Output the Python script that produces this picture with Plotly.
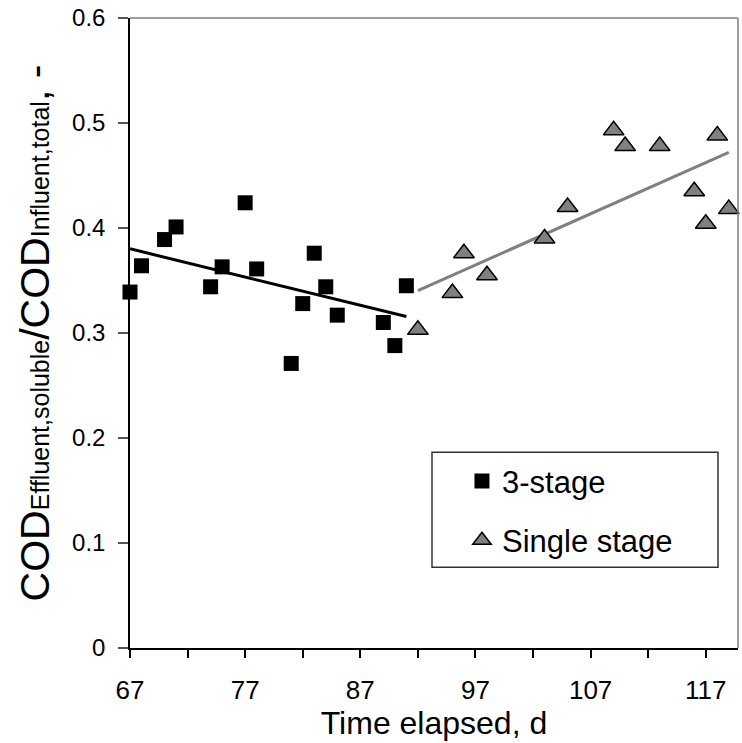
import numpy as np
import plotly.graph_objects as go

# ---- data ----
days_3stage = [67, 68, 70, 71, 74, 75, 77, 78, 81, 82, 83, 84, 85, 89, 90, 91]
ratio_3stage = [0.339, 0.364, 0.389, 0.401, 0.344, 0.363, 0.424, 0.361, 0.271,
                0.328, 0.376, 0.344, 0.317, 0.310, 0.288, 0.345]
days_single = [92, 95, 96, 98, 103, 105, 109, 110, 113, 116, 117, 118, 119]
ratio_single = [0.303, 0.338, 0.376, 0.355, 0.390, 0.420, 0.493, 0.478, 0.478,
                0.435, 0.404, 0.488, 0.418]

x_tickvals = [67, 72, 77, 82, 87, 92, 97, 102, 107, 112, 117]
x_ticktext = ["67", "", "77", "", "87", "", "97", "", "107", "", "117"]
y_tickvals = [0, 0.1, 0.2, 0.3, 0.4, 0.5, 0.6]
y_ticktext = ["0", "0.1", "0.2", "0.3", "0.4", "0.5", "0.6"]

FONT = "Arial, Liberation Sans, sans-serif"


def trend(xs, ys):
    k, b = np.polyfit(xs, ys, 1)
    xe = np.array([min(xs), max(xs)], dtype=float)
    return xe, k * xe + b


fig = go.Figure()

tx, ty = trend(days_3stage, ratio_3stage)
fig.add_trace(go.Scatter(x=tx, y=ty, mode="lines", line=dict(color="black", width=3),
                         showlegend=False, hoverinfo="skip", cliponaxis=False))
tx2, ty2 = trend(days_single, ratio_single)
fig.add_trace(go.Scatter(x=tx2, y=ty2, mode="lines", line=dict(color="#808080", width=3),
                         showlegend=False, hoverinfo="skip", cliponaxis=False))

fig.add_trace(go.Scatter(x=days_3stage, y=ratio_3stage, mode="markers", name="3-stage",
                         legendgroup="a", cliponaxis=False,
                         marker=dict(symbol="square", size=15, color="black",
                                     line=dict(width=0))))
fig.add_trace(go.Scatter(x=days_single, y=ratio_single, mode="markers", name="Single stage",
                         legendgroup="b", cliponaxis=False,
                         marker=dict(symbol="triangle-up", size=18, color="#808080",
                                     line=dict(color="black", width=1.5))))

# top/right plot-area border (grey)
fig.add_shape(type="line", xref="paper", yref="paper", x0=0, x1=1, y0=1, y1=1,
              line=dict(color="#808080", width=1.5))
fig.add_shape(type="line", xref="paper", yref="paper", x0=1, x1=1, y0=0, y1=1,
              line=dict(color="#808080", width=1.5))
# legend frame
fig.add_shape(type="rect", xref="paper", yref="paper", x0=0.4967, x1=0.9671,
              y0=0.1281, y1=0.3106, line=dict(color="#333333", width=1.5),
              fillcolor="white", layer="below")

fig.update_layout(
    width=742, height=743,
    margin=dict(l=130, r=4, t=18, b=95),
    paper_bgcolor="white", plot_bgcolor="white",
    font=dict(family=FONT, color="black"),
    showlegend=True,
    legend=dict(x=0.546, y=0.128, xanchor="left", yanchor="bottom",
                bgcolor="rgba(0,0,0,0)", borderwidth=0,
                font=dict(size=31, family=FONT, color="black"),
                traceorder="grouped", tracegroupgap=16, itemwidth=30),
    xaxis=dict(range=[67, 119.8], tickmode="array", tickvals=x_tickvals,
               ticktext=x_ticktext, ticks="outside", ticklen=8, tickwidth=1.5,
               tickcolor="black", showline=True, linecolor="black", linewidth=1.5,
               showgrid=False, zeroline=False, tickfont=dict(size=26),
               ticklabelstandoff=10,
               title=dict(text="Time elapsed, d", font=dict(size=32), standoff=6)),
    yaxis=dict(range=[0, 0.6], tickmode="array", tickvals=y_tickvals,
               ticktext=y_ticktext, ticks="outside", ticklen=10, tickwidth=1.5,
               tickcolor="#555555", showline=True, linecolor="black", linewidth=1.5,
               showgrid=False, zeroline=False, tickfont=dict(size=24),
               ticklabelstandoff=8,
               title=dict(text="COD<span style='font-size:25px'>Effluent,soluble</span>/COD"
                               "<span style='font-size:25px'>Influent,total</span>, -",
                          font=dict(size=41), standoff=10)),
)

fig.write_html("out.html")
